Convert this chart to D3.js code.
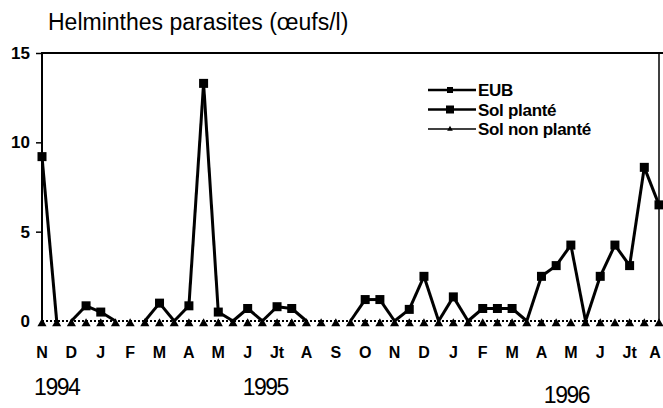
<!DOCTYPE html>
<html>
<head>
<meta charset="utf-8">
<script src="https://cdn.jsdelivr.net/npm/d3@7"></script>
<style>
  body { margin: 0; background: #fff; }
  svg { display: block; font-family: "Liberation Sans", Arial, sans-serif; }
</style>
</head>
<body>
<svg width="663" height="408"></svg>
<script>
// half-month sampling, N 1994 -> A 1996
var months = ['N', 'D', 'J', 'F', 'M', 'A', 'M', 'J', 'Jt', 'A', 'S', 'O', 'N', 'D', 'J', 'F', 'M', 'A', 'M', 'J', 'Jt', 'A'];
var years = [{label: '1994', at: 1}, {label: '1995', at: 15.2}, {label: '1996', at: 35.7}];
var yTicks = [0, 5, 10, 15];
var eub = [9.2, 0, 0, 0.85, 0.5, 0, 0, 0, 1.0, 0, 0.85, 13.3, 0.5, 0, 0.7, 0, 0.8, 0.7, 0, 0, 0, 0,
           1.2, 1.2, 0, 0.65, 2.5, 0, 1.35, 0, 0.7, 0.7, 0.7, 0, 2.5, 3.1, 4.25, 0, 2.5, 4.25, 3.1, 8.6, 6.5];
var solNonPlante = eub.map(() => 0);

var width = 663;
var height = 408;
var svg = d3.select('svg');

var x = d3.scaleLinear().domain([0, eub.length - 1]).range([42, 659]);
var y = d3.scaleLinear().domain([0, 15]).range([321, 53]);

svg.append('text')
    .attr('x', 48)
    .attr('y', 30)
    .attr('font-size', 23)
    .text('Helminthes parasites (œufs/l)');

// frame: left axis, top and right border
svg.append('path')
    .attr('d', 'M' + x(0) + ',' + y(0) + 'V' + y(15) + 'H' + width)
    .attr('fill', 'none')
    .attr('stroke', '#000')
    .attr('stroke-width', 2);
svg.append('line')
    .attr('x1', x(42)).attr('x2', x(42))
    .attr('y1', y(15)).attr('y2', y(0))
    .attr('stroke', '#000')
    .attr('stroke-width', 1.5);

var yAxis = d3.axisLeft(y).tickValues(yTicks).tickSize(6).tickPadding(6);
var gy = svg.append('g')
    .attr('transform', 'translate(' + x(0) + ',0)')
    .call(yAxis);
gy.select('.domain').remove();
gy.selectAll('line').attr('stroke-width', 1.5).filter(d => d === 0).remove();
gy.selectAll('text')
    .attr('font-size', 17)
    .attr('font-weight', 'bold')
    .attr('font-family', '"Liberation Sans", Arial, sans-serif');

// month labels
svg.append('g')
  .selectAll('text')
  .data(months)
  .enter()
  .append('text')
    .attr('x', (d, i) => Math.min(x(i * 2), 655))
    .attr('y', 358)
    .attr('text-anchor', 'middle')
    .attr('font-size', 16)
    .attr('font-weight', 'bold')
    .text(d => d);

svg.append('g')
  .selectAll('text')
  .data(years)
  .enter()
  .append('text')
    .attr('x', d => x(d.at))
    .attr('y', (d, i) => i === 2 ? 403 : 395)
    .attr('text-anchor', 'middle')
    .attr('font-size', 23)
    .attr('letter-spacing', -1.5)
    .text(d => d.label);

// sol non planté: dotted baseline with triangles
svg.append('line')
    .attr('x1', x(0)).attr('x2', x(42))
    .attr('y1', y(0)).attr('y2', y(0))
    .attr('stroke', '#000')
    .attr('stroke-width', 2)
    .attr('stroke-dasharray', '2,2');

svg.append('g')
  .selectAll('path')
  .data(solNonPlante)
  .enter()
  .append('path')
    .attr('transform', (d, i) => 'translate(' + x(i) + ',' + (y(d) + 2.5) + ')')
    .attr('d', d3.symbol(d3.symbolTriangle, 36));

// EUB: thick segments, skip runs along zero
var segs = [];
for (var i = 0; i < eub.length - 1; i++) {
    if (eub[i] === 0 && eub[i + 1] === 0) continue;
    segs.push([i, i + 1]);
}
svg.append('g')
  .selectAll('line')
  .data(segs)
  .enter()
  .append('line')
    .attr('x1', d => x(d[0]))
    .attr('y1', d => y(eub[d[0]]))
    .attr('x2', d => x(d[1]))
    .attr('y2', d => y(eub[d[1]]))
    .attr('stroke', '#000')
    .attr('stroke-width', 3);

svg.append('g')
  .selectAll('rect')
  .data(eub.map((v, i) => ({i: i, v: v})).filter(d => d.v > 0))
  .enter()
  .append('rect')
    .attr('x', d => x(d.i) - 4.5)
    .attr('y', d => y(d.v) - 4.5)
    .attr('width', 9)
    .attr('height', 9)
    .attr('fill', '#000');

// legend
var legend = [
    {name: 'EUB', mark: 'sq', size: 6},
    {name: 'Sol planté', mark: 'sq', size: 8},
    {name: 'Sol non planté', mark: 'tri', size: 5}
];
var lg = svg.append('g')
  .selectAll('g')
  .data(legend)
  .enter()
  .append('g')
    .attr('transform', (d, i) => 'translate(428,' + (90 + i * 19.5) + ')');
lg.append('line')
    .attr('x1', 0).attr('x2', 48)
    .attr('stroke', '#000')
    .attr('stroke-width', (d, i) => i === 2 ? 1.5 : 2.5);
lg.append('path')
    .attr('d', d => d.mark === 'sq'
        ? d3.symbol(d3.symbolSquare, d.size * d.size)()
        : d3.symbol(d3.symbolTriangle, 14)())
    .attr('transform', 'translate(22,0)');
lg.append('text')
    .attr('x', 50)
    .attr('dy', '0.36em')
    .attr('font-size', 17)
    .attr('font-weight', 'bold')
    .attr('letter-spacing', -0.3)
    .text(d => d.name);
</script>
</body>
</html>
